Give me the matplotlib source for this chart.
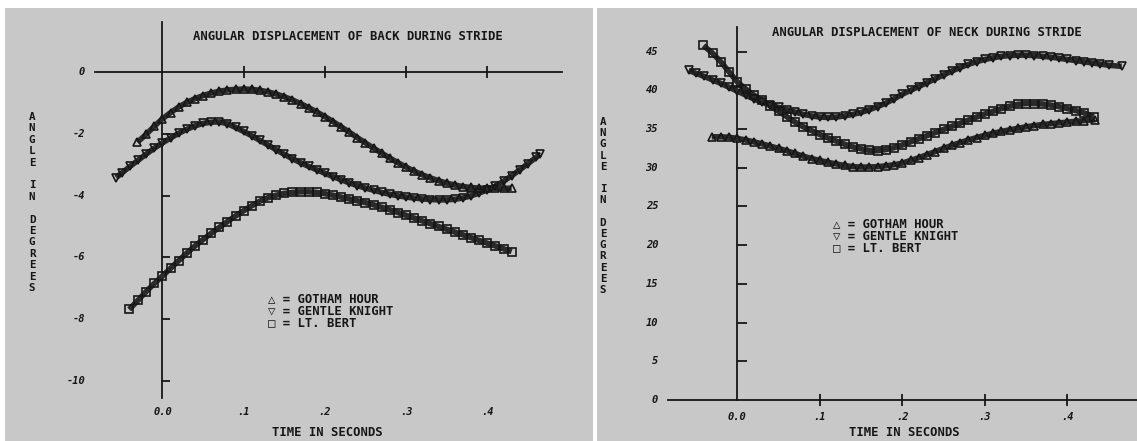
import numpy as np
import matplotlib
matplotlib.use("Agg")
import matplotlib.pyplot as plt
from matplotlib.patches import Rectangle

# ---------------------------------------------------------------
# values
# ---------------------------------------------------------------
names = ["GOTHAM HOUR", "GENTLE KNIGHT", "LT. BERT"]
symbols = ["\u25b3", "\u25bd", "\u25a1"]
markers = ["^", "v", "s"]

# back (left panel)
back_t_gh = [-0.031, -0.02, -0.01, 0.00, 0.01, 0.02, 0.03, 0.04, 0.05, 0.06, 0.07,
             0.08, 0.09, 0.10, 0.11, 0.12, 0.13, 0.14, 0.15, 0.16, 0.17, 0.18,
             0.19, 0.20, 0.21, 0.22, 0.23, 0.24, 0.25, 0.26, 0.27, 0.28, 0.29,
             0.30, 0.31, 0.32, 0.33, 0.34, 0.35, 0.36, 0.37, 0.38, 0.39, 0.40,
             0.41, 0.42, 0.43]
back_gh = [-2.28, -2.02, -1.76, -1.52, -1.32, -1.14, -0.99, -0.87, -0.77, -0.69, -0.63,
           -0.59, -0.57, -0.56, -0.57, -0.60, -0.65, -0.72, -0.81, -0.91, -1.03, -1.16,
           -1.30, -1.45, -1.61, -1.78, -1.95, -2.13, -2.30, -2.47, -2.63, -2.79, -2.94,
           -3.08, -3.21, -3.33, -3.43, -3.52, -3.60, -3.66, -3.71, -3.74, -3.76, -3.77,
           -3.77, -3.77, -3.76]

back_t_gk = [-0.057, -0.05, -0.04, -0.03, -0.02, -0.01, 0.00, 0.01, 0.02, 0.03, 0.04,
             0.05, 0.06, 0.07, 0.08, 0.09, 0.10, 0.11, 0.12, 0.13, 0.14, 0.15,
             0.16, 0.17, 0.18, 0.19, 0.20, 0.21, 0.22, 0.23, 0.24, 0.25, 0.26,
             0.27, 0.28, 0.29, 0.30, 0.31, 0.32, 0.33, 0.34, 0.35, 0.36, 0.37,
             0.38, 0.39, 0.40, 0.41, 0.42, 0.43, 0.44, 0.45, 0.46, 0.465]
back_gk = [-3.42, -3.27, -3.06, -2.86, -2.66, -2.47, -2.30, -2.14, -1.99, -1.86, -1.75,
           -1.67, -1.63, -1.62, -1.68, -1.80, -1.93, -2.07, -2.22, -2.37, -2.52, -2.67,
           -2.81, -2.94, -3.06, -3.17, -3.28, -3.39, -3.49, -3.59, -3.68, -3.76, -3.83,
           -3.90, -3.96, -4.01, -4.05, -4.08, -4.11, -4.13, -4.14, -4.14, -4.12, -4.08,
           -4.01, -3.92, -3.82, -3.69, -3.54, -3.36, -3.17, -2.97, -2.77, -2.67]

back_t_lb = [-0.041, -0.03, -0.02, -0.01, 0.00, 0.01, 0.02, 0.03, 0.04, 0.05, 0.06,
             0.07, 0.08, 0.09, 0.10, 0.11, 0.12, 0.13, 0.14, 0.15, 0.16, 0.17,
             0.18, 0.19, 0.20, 0.21, 0.22, 0.23, 0.24, 0.25, 0.26, 0.27, 0.28,
             0.29, 0.30, 0.31, 0.32, 0.33, 0.34, 0.35, 0.36, 0.37, 0.38, 0.39,
             0.40, 0.41, 0.42, 0.43]
back_lb = [-7.68, -7.38, -7.10, -6.84, -6.60, -6.35, -6.10, -5.86, -5.63, -5.42, -5.22,
           -5.03, -4.84, -4.66, -4.49, -4.33, -4.18, -4.07, -3.99, -3.93, -3.90, -3.88,
           -3.88, -3.90, -3.94, -3.99, -4.05, -4.11, -4.17, -4.23, -4.30, -4.38, -4.46,
           -4.55, -4.64, -4.73, -4.82, -4.91, -5.00, -5.09, -5.18, -5.27, -5.36, -5.45,
           -5.54, -5.63, -5.72, -5.81]

# neck (right panel)
neck_t_gh = [-0.031, -0.02, -0.01, 0.00, 0.01, 0.02, 0.03, 0.04, 0.05, 0.06, 0.07,
             0.08, 0.09, 0.10, 0.11, 0.12, 0.13, 0.14, 0.15, 0.16, 0.17, 0.18,
             0.19, 0.20, 0.21, 0.22, 0.23, 0.24, 0.25, 0.26, 0.27, 0.28, 0.29,
             0.30, 0.31, 0.32, 0.33, 0.34, 0.35, 0.36, 0.37, 0.38, 0.39, 0.40,
             0.41, 0.42, 0.434]
neck_gh = [34.0, 34.0, 33.95, 33.8, 33.6, 33.35, 33.1, 32.8, 32.5, 32.2, 31.85,
           31.5, 31.2, 30.95, 30.7, 30.5, 30.3, 30.15, 30.1, 30.1, 30.15, 30.25,
           30.4, 30.6, 30.95, 31.3, 31.7, 32.1, 32.5, 32.9, 33.25, 33.6, 33.9,
           34.2, 34.45, 34.7, 34.9, 35.1, 35.3, 35.45, 35.6, 35.7, 35.8, 35.9,
           36.0, 36.1, 36.2]

neck_t_gk = [-0.059, -0.05, -0.04, -0.03, -0.02, -0.01, 0.00, 0.01, 0.02, 0.03, 0.04,
             0.05, 0.06, 0.07, 0.08, 0.09, 0.10, 0.11, 0.12, 0.13, 0.14, 0.15,
             0.16, 0.17, 0.18, 0.19, 0.20, 0.21, 0.22, 0.23, 0.24, 0.25, 0.26,
             0.27, 0.28, 0.29, 0.30, 0.31, 0.32, 0.33, 0.34, 0.35, 0.36, 0.37,
             0.38, 0.39, 0.40, 0.41, 0.42, 0.43, 0.44, 0.45, 0.466]
neck_gk = [42.6, 42.2, 41.8, 41.35, 40.9, 40.4, 39.9, 39.4, 38.9, 38.45, 38.1,
           37.8, 37.5, 37.2, 36.9, 36.7, 36.55, 36.5, 36.55, 36.7, 36.9, 37.15,
           37.5, 37.9, 38.35, 38.9, 39.5, 40.0, 40.5, 41.0, 41.5, 42.0, 42.5,
           42.95, 43.35, 43.7, 44.0, 44.2, 44.4, 44.5, 44.55, 44.55, 44.5, 44.4,
           44.3, 44.15, 44.0, 43.85, 43.7, 43.55, 43.4, 43.25, 43.1]

neck_t_lb = [-0.041, -0.03, -0.02, -0.01, 0.00, 0.01, 0.02, 0.03, 0.04, 0.05, 0.06,
             0.07, 0.08, 0.09, 0.10, 0.11, 0.12, 0.13, 0.14, 0.15, 0.16, 0.17,
             0.18, 0.19, 0.20, 0.21, 0.22, 0.23, 0.24, 0.25, 0.26, 0.27, 0.28,
             0.29, 0.30, 0.31, 0.32, 0.33, 0.34, 0.35, 0.36, 0.37, 0.38, 0.39,
             0.40, 0.41, 0.42, 0.432]
neck_lb = [45.8, 44.8, 43.7, 42.4, 41.1, 40.2, 39.4, 38.7, 38.0, 37.3, 36.6,
           35.9, 35.3, 34.8, 34.3, 33.85, 33.45, 33.05, 32.7, 32.45, 32.25, 32.2,
           32.35, 32.6, 32.95, 33.35, 33.75, 34.15, 34.55, 34.95, 35.35, 35.75, 36.15,
           36.55, 36.95, 37.3, 37.65, 37.95, 38.2, 38.3, 38.3, 38.25, 38.1, 37.9,
           37.65, 37.4, 37.1, 36.6]

x_ticks = [0.0, 0.1, 0.2, 0.3, 0.4]
x_ticklabels = ["0.0", ".1", ".2", ".3", ".4"]
back_yticks = [0, -2, -4, -6, -8, -10]
neck_yticks = [0, 5, 10, 15, 20, 25, 30, 35, 40, 45]

ylabel = "ANGLE IN DEGREES"
xlabel = "TIME IN SECONDS"

# ---------------------------------------------------------------
W, H = 1137, 441
ink = "#161616"
paper = "#c8c8c8"
mono = ["DejaVu Sans Mono", "DejaVu Sans"]

fig = plt.figure(figsize=(W / 100, H / 100), dpi=100)
fig.patch.set_facecolor("white")
# the two scanned sheets (kept behind the axes)
fig.patches.append(Rectangle((5 / W, 0), 588 / W, 433 / H, transform=fig.transFigure,
                             facecolor=paper, edgecolor="none", zorder=-5))
fig.patches.append(Rectangle((597 / W, 0), 540 / W, 433 / H, transform=fig.transFigure,
                             facecolor=paper, edgecolor="none", zorder=-5))


def px(x, y):
    return x / W, 1 - y / H


def setup(ax, xlim, ylim, yticks, ytick_len, lab_y):
    ax.set_facecolor("none")
    ax.set_xlim(*xlim)
    ax.set_ylim(*ylim)
    for s in ["top", "right"]:
        ax.spines[s].set_visible(False)
    for s in ["left", "bottom"]:
        ax.spines[s].set_position(("data", 0))
        ax.spines[s].set_color(ink)
        ax.spines[s].set_linewidth(1.3)
    ax.set_xticks(x_ticks[1:])
    ax.set_yticks([v for v in yticks if v != 0])
    ax.tick_params(axis="x", direction="inout", length=9, width=1.3, color=ink,
                   labelbottom=False)
    ax.tick_params(axis="y", direction="in", length=ytick_len, width=1.3, color=ink,
                   labelleft=False)
    # tick labels sit at the edge of the sheet, away from the axis lines
    for v, lab in zip(x_ticks, x_ticklabels):
        ax.text(v, lab_y, lab, transform=ax.get_xaxis_transform(), ha="center",
                va="center", fontsize=7.5, fontweight="bold", style="italic",
                family=mono, color=ink)
    for v in yticks:
        ax.text(-0.021, v, str(v), transform=ax.get_yaxis_transform(), ha="right",
                va="center", fontsize=7.5, fontweight="bold", style="italic",
                family=mono, color=ink)


def draw_series(ax, series):
    # plotter traces: a heavy band of overlapping symbols
    for (t, v), m in zip(series, markers):
        ax.plot(t, v, color="#2a2a2a", lw=4.0, solid_capstyle="butt",
                clip_on=False, zorder=3)
        ax.plot(t, v, ls="none", marker=m, ms=5.5, mfc="none", mec=ink,
                mew=1.2, clip_on=False, zorder=4)


def text_block(title, title_xy, xlab_xy, ylab_x, ylab_y0, ylab_y1, legend_xy):
    fig.text(*px(*title_xy), title, ha="center", va="center", fontsize=8.8,
             fontweight="bold", family=mono, color=ink)
    fig.text(*px(*xlab_xy), xlabel, ha="center", va="center", fontsize=8.8,
             fontweight="bold", family=mono, color=ink)
    step = (ylab_y1 - ylab_y0) / (len(ylabel) - 1)
    for i, ch in enumerate(ylabel):
        if ch != " ":
            fig.text(*px(ylab_x, ylab_y0 + i * step), ch, ha="center", va="center",
                     fontsize=7.8, fontweight="bold", family=mono, color=ink)
    lx, ly = legend_xy
    for i, (sym, nm) in enumerate(zip(symbols, names)):
        fig.text(*px(lx, ly + 12 * i), sym + " = " + nm, ha="left", va="center",
                 fontsize=8.8, fontweight="bold", family=mono, color=ink)


# left: back
ax1 = fig.add_axes([95 / W, 1 - 398 / H, 467 / W, 376 / H])
setup(ax1, (-0.0831, 0.492), (-10.54, 1.606), back_yticks, 6, -0.037)
draw_series(ax1, [(back_t_gh, back_gh), (back_t_gk, back_gk), (back_t_lb, back_lb)])
text_block("ANGULAR DISPLACEMENT OF BACK DURING STRIDE", (348, 36), (327, 433),
           32, 117, 288, (268, 299))

# right: neck
ax2 = fig.add_axes([668 / W, 1 - 400 / H, 469 / W, 373 / H])
setup(ax2, (-0.084, 0.4845), (0, 48.19), neck_yticks, 7, -0.046)
draw_series(ax2, [(neck_t_gh, neck_gh), (neck_t_gk, neck_gk), (neck_t_lb, neck_lb)])
text_block("ANGULAR DISPLACEMENT OF NECK DURING STRIDE", (927, 33), (904, 433),
           603, 122, 290, (833, 224))

fig.savefig("out.png", dpi=100, facecolor=fig.get_facecolor())
